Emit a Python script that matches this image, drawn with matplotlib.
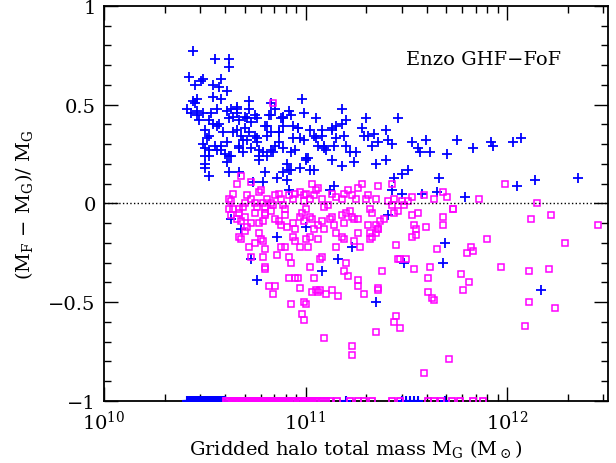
import numpy as np
import matplotlib
matplotlib.use('Agg')
import matplotlib.pyplot as plt
from matplotlib.ticker import FixedLocator, LogLocator, NullFormatter, MultipleLocator

plt.rcParams['font.family'] = 'DejaVu Serif'
plt.rcParams['mathtext.fontset'] = 'dejavuserif'

# log10 de la masa del halo (M_G) y (M_F - M_G)/M_G, leidos del grafico
# cruces azules
logm_azul = [10.44, 10.55, 10.62, 10.62, 10.42, 10.49, 10.45, 10.48, 10.54, 10.58,
             10.57, 10.61, 10.46, 10.45, 10.41, 10.43, 10.46, 10.49, 10.58, 10.56,
             10.63, 10.66, 10.72, 10.72, 10.66, 10.64, 10.62, 10.52, 10.54, 10.57,
             10.50, 10.52, 10.49, 10.50, 10.52, 10.50, 10.50, 10.50, 10.52, 10.58,
             10.60, 10.63, 10.61, 10.56, 10.59, 10.66, 10.68, 10.70, 10.67, 10.70,
             10.73, 10.75, 10.76, 10.69, 10.71, 10.76, 10.67, 10.73, 10.77, 10.79,
             10.81, 10.77, 10.83, 10.85, 10.87, 10.89, 10.80, 10.83, 10.81, 10.87,
             10.89, 10.85, 10.83, 10.88, 10.89, 10.92, 10.93, 10.94, 10.96, 10.98,
             10.99, 10.97, 10.95, 10.93, 10.91, 10.93, 10.97, 10.89, 10.86, 10.91,
             10.99, 11.00, 11.01, 11.02, 11.04, 11.05, 11.06, 11.08, 11.09, 11.10,
             11.08, 11.13, 11.14, 11.13, 11.15, 11.18, 11.18, 11.20, 11.19, 11.20,
             11.22, 11.18, 11.24, 11.25, 11.28, 11.30, 11.31, 11.34, 11.35, 11.36,
             11.40, 11.41, 11.43, 11.46, 11.40, 11.44, 11.48, 11.51, 11.53, 11.56,
             11.60, 11.62, 11.70, 11.75, 11.83, 11.92, 11.93, 12.03, 12.07, 11.66,
             12.05, 12.14, 12.35, 11.58, 11.65, 11.79, 11.48, 11.43,
             10.63, 10.68, 10.73, 10.76, 10.86, 11.16, 11.08, 11.23, 11.35, 11.49,
             11.69, 11.68, 12.17, 11.41, 11.00, 11.12, 10.92,
             10.47, 10.54, 10.55, 10.61, 10.64, 10.69, 10.75, 10.83, 10.62, 10.67,
             10.80, 10.79, 10.74, 11.04, 11.14, 11.29, 11.33, 11.57,
             10.44, 10.46, 10.53, 10.56, 10.61, 10.66, 10.71, 10.72, 10.76, 10.81,
             10.82, 10.87, 10.89, 10.94, 10.96, 11.00, 11.05, 11.09, 11.13, 11.15,
             10.58, 10.62, 10.67, 10.77, 10.84, 10.51, 10.52, 10.92, 11.02]
dif_azul = [0.77, 0.73, 0.73, 0.69, 0.64, 0.63, 0.60, 0.62, 0.60, 0.63,
            0.59, 0.57, 0.53, 0.51, 0.48, 0.46, 0.45, 0.46, 0.53, 0.48,
            0.48, 0.49, 0.52, 0.48, 0.46, 0.44, 0.43, 0.42, 0.40, 0.40,
            0.37, 0.34, 0.30, 0.28, 0.27, 0.24, 0.20, 0.18, 0.14, 0.27,
            0.25, 0.24, 0.21, 0.27, 0.36, 0.37, 0.34, 0.38, 0.42, 0.44,
            0.41, 0.45, 0.43, 0.32, 0.32, 0.31, 0.29, 0.28, 0.27, 0.26,
            0.24, 0.22, 0.27, 0.29, 0.31, 0.28, 0.39, 0.36, 0.34, 0.36,
            0.39, 0.48, 0.45, 0.43, 0.44, 0.47, 0.45, 0.39, 0.38, 0.53,
            0.46, 0.33, 0.27, 0.26, 0.20, 0.17, 0.18, 0.16, 0.13, 0.12,
            0.32, 0.22, 0.23, 0.37, 0.34, 0.43, 0.29, 0.37, 0.29, 0.27,
            0.34, 0.37, 0.29, 0.22, 0.39, 0.48, 0.40, 0.42, 0.34, 0.29,
            0.26, 0.19, 0.21, 0.26, 0.38, 0.43, 0.34, 0.35, 0.20, 0.31,
            0.37, 0.32, 0.30, 0.43, 0.22, 0.13, 0.15, 0.17, 0.31, 0.28,
            0.32, 0.26, 0.25, 0.32, 0.28, 0.31, 0.29, 0.31, 0.33, 0.13,
            0.09, 0.12, 0.13, 0.05, 0.06, 0.03, 0.05, 0.07,
            -0.08, -0.13, -0.28, -0.39, -0.17, -0.28, -0.34, -0.22, -0.50, -0.30,
            -0.20, -0.30, -0.44, -0.06, -0.12, 0.07, 0.07,
            0.42, 0.54, 0.29, 0.31, 0.36, 0.26, 0.34, 0.51, 0.16, 0.16,
            0.16, 0.11, 0.11, 0.17, 0.09, 0.34, 0.29, 0.26,
            0.52, 0.47, 0.46, 0.39, 0.47, 0.48, 0.43, 0.36, 0.33, 0.39,
            0.45, 0.36, 0.43, 0.33, 0.38, 0.23, 0.33, 0.28, 0.38, 0.33,
            0.29, 0.24, 0.28, 0.24, 0.26, 0.33, 0.24, 0.17, 0.17]

# cuadrados magenta
logm_mag = [10.84, 10.73, 10.66, 10.68, 10.62, 10.63, 10.64, 10.62, 10.64, 10.63,
            10.67, 10.67, 10.69, 10.70, 10.71, 10.73, 10.75, 10.77, 10.78, 10.76,
            10.79, 10.80, 10.80, 10.81, 10.83, 10.84, 10.85, 10.87, 10.88, 10.89,
            10.90, 10.92, 10.94, 10.95, 10.97, 10.99, 10.99, 11.00, 11.02, 11.03,
            11.04, 11.05, 11.06, 11.08, 11.09, 11.11, 11.13, 11.15, 11.18, 11.19,
            11.21, 11.23, 11.25, 11.26, 11.28, 11.30, 11.31, 11.32, 11.33, 11.35,
            11.36, 11.41, 11.43, 11.44, 11.48, 11.53, 11.59, 11.64, 11.68, 11.70,
            11.73, 11.86, 11.99, 12.15,
            10.66, 10.68, 10.70, 10.71, 10.73, 10.75, 10.77, 10.79, 10.80, 10.83,
            10.85, 10.87, 10.88, 10.90, 10.91, 10.94, 10.95, 10.97, 10.98, 10.99,
            11.00, 11.02, 11.03, 11.04, 11.06, 11.08, 11.09, 11.12, 11.13, 11.14,
            11.15, 11.18, 11.19, 11.20, 11.22, 11.23, 11.24, 11.26, 11.31, 11.32,
            11.33, 11.35, 11.36, 11.37, 11.39, 11.43, 11.44, 11.46, 11.49, 11.51,
            11.53, 11.54, 11.55, 11.56, 11.60, 11.68, 11.68, 11.73, 12.12, 12.22,
            12.45, 11.90, 12.29,
            10.67, 10.68, 10.70, 10.72, 10.73, 10.75, 10.77, 10.78, 10.79, 10.80,
            10.79, 10.80, 10.80, 10.82, 10.84, 10.85, 10.86, 10.88, 10.90, 10.92,
            10.93, 10.94, 10.95, 10.97, 11.00, 11.02, 11.01, 11.02, 11.04, 11.06,
            11.08, 11.07, 11.05, 11.03, 11.07, 11.10, 11.13, 11.15, 11.16, 11.18,
            11.19, 11.20, 11.19, 11.21, 11.24, 11.26, 11.27, 11.26, 11.26, 11.29,
            11.32, 11.35, 11.36, 11.38, 11.36, 11.36, 11.45, 11.46, 11.47, 11.50,
            11.55, 11.53, 11.54, 11.61, 11.62, 11.63, 11.64, 11.61, 11.65, 11.77,
            11.78, 11.80, 11.81, 11.82, 11.83, 11.97, 12.11, 12.11, 12.09, 12.21,
            12.24,
            10.93, 10.98, 10.99, 10.99, 11.00, 11.06, 11.09, 11.23, 11.23, 11.35,
            11.44, 11.45, 11.47, 11.59, 11.71, 10.92, 10.95, 10.96, 10.97]
dif_mag = [0.51, 0.11, 0.10, 0.14, 0.02, 0.01, 0.05, -0.03, -0.03, -0.06,
           -0.03, -0.05, -0.02, 0.00, 0.04, 0.02, 0.00, 0.06, 0.07, -0.02,
           0.00, -0.02, -0.05, 0.02, 0.00, -0.01, 0.04, 0.05, 0.02, -0.01,
           -0.03, 0.04, 0.02, 0.05, 0.06, 0.04, 0.01, 0.05, 0.02, 0.10,
           0.04, 0.07, 0.08, 0.02, -0.02, -0.01, 0.05, 0.03, 0.02, 0.05,
           0.07, 0.04, 0.02, 0.08, 0.10, 0.02, 0.04, -0.03, -0.05, 0.02,
           0.09, 0.01, 0.10, 0.02, 0.01, 0.03, 0.04, 0.02, 0.06, 0.03,
           -0.03, 0.02, 0.10, 0.00,
           -0.08, -0.09, -0.07, -0.12, -0.10, -0.05, -0.10, -0.09, -0.06, -0.04,
           -0.08, -0.09, -0.11, -0.06, -0.12, -0.10, -0.13, -0.07, -0.05, -0.09,
           -0.03, -0.07, -0.08, -0.13, -0.11, -0.09, -0.13, -0.08, -0.07, -0.11,
           -0.15, -0.06, -0.10, -0.05, -0.04, -0.07, -0.08, -0.08, -0.11, -0.15,
           -0.17, -0.11, -0.13, -0.09, -0.08, -0.01, -0.05, -0.04, -0.01, 0.01,
           -0.06, -0.11, -0.13, -0.05, -0.12, -0.07, -0.11, -0.03, -0.08, -0.06,
           -0.11, -0.18, -0.20,
           -0.17, -0.18, -0.14, -0.22, -0.27, -0.20, -0.15, -0.18, -0.19, -0.23,
           -0.27, -0.32, -0.33, -0.42, -0.46, -0.42, -0.26, -0.22, -0.22, -0.27,
           -0.30, -0.17, -0.19, -0.22, -0.18, -0.17, -0.22, -0.32, -0.38, -0.18,
           -0.27, -0.28, -0.44, -0.45, -0.44, -0.46, -0.44, -0.22, -0.47, -0.17,
           -0.18, -0.30, -0.34, -0.37, -0.19, -0.15, -0.22, -0.39, -0.42, -0.46,
           -0.18, -0.15, -0.13, -0.34, -0.43, -0.44, -0.21, -0.28, -0.28, -0.28,
           -0.16, -0.17, -0.33, -0.45, -0.32, -0.48, -0.49, -0.38, -0.23, -0.36,
           -0.44, -0.25, -0.40, -0.22, -0.24, -0.32, -0.34, -0.50, -0.62, -0.33,
           -0.53,
           -0.51, -0.56, -0.50, -0.59, -0.51, -0.45, -0.68, -0.72, -0.77, -0.65,
           -0.60, -0.57, -0.63, -0.86, -0.79, -0.38, -0.38, -0.38, -0.43]

# halos sin contraparte: quedan en -1 (borde inferior)
logm_azul_cero = [10.41, 10.415, 10.42, 10.425, 10.43, 10.44, 10.445, 10.45, 10.46, 10.465,
                  10.47, 10.48, 10.485, 10.49, 10.50, 10.505, 10.51, 10.52, 10.53, 10.535,
                  10.54, 10.55, 10.555, 10.56, 10.57, 10.58, 10.585, 10.59, 10.60,
                  11.20, 11.48, 11.50, 11.52, 11.54, 11.56, 11.69]
logm_mag_cero = [10.605, 10.61, 10.62, 10.63, 10.64, 10.645, 10.65, 10.66, 10.67, 10.68,
                 10.69, 10.70, 10.71, 10.72, 10.73, 10.74, 10.75, 10.76, 10.77, 10.78,
                 10.79, 10.80, 10.81, 10.82, 10.83, 10.84, 10.85, 10.86, 10.87, 10.88,
                 10.89, 10.90, 10.91, 10.92, 10.93, 10.94, 10.95, 10.96, 10.97, 10.98,
                 10.99, 11.00, 11.01, 11.02, 11.03, 11.04, 11.05, 11.06, 11.08, 11.10,
                 11.12, 11.155, 11.22, 11.26, 11.29, 11.33, 11.43, 11.47, 11.61, 11.64,
                 11.67, 11.725, 11.765, 11.83, 11.88]

masa_azul = 10 ** np.array(logm_azul)
masa_mag = 10 ** np.array(logm_mag)

fig = plt.figure(figsize=(6.16, 4.64), dpi=100)
ax = fig.add_axes([0.169, 0.134, 0.8175, 0.851])

ax.plot(masa_azul, dif_azul, '+', color='#0000ff', ms=6.5, mew=1.3, ls='none')
ax.plot(10 ** np.array(logm_azul_cero), [-1] * len(logm_azul_cero), '+', color='#0000ff',
        ms=7, mew=1.5, ls='none', zorder=3)
ax.plot(masa_mag, dif_mag, 's', mfc='none', mec='#ff00ff', ms=4.5, mew=1.1, ls='none')
ax.plot(10 ** np.array(logm_mag_cero), [-1] * len(logm_mag_cero), 's', mfc='none',
        mec='#ff00ff', ms=5, mew=1.3, ls='none', zorder=3)

ax.axhline(0, color='black', ls=':', lw=1.0)

ax.set_xscale('log')
ax.set_xlim(1e10, 3.16e12)
ax.set_ylim(-1, 1)

ax.xaxis.set_major_locator(FixedLocator([1e10, 1e11, 1e12]))
ax.set_xticklabels([r'$10^{10}$', r'$10^{11}$', r'$10^{12}$'])
ax.xaxis.set_minor_locator(LogLocator(base=10, subs=np.arange(2, 10)))
ax.xaxis.set_minor_formatter(NullFormatter())
ax.yaxis.set_major_locator(FixedLocator([-1, -0.5, 0, 0.5, 1]))
ax.set_yticklabels(['\u22121', '\u22120.5', '0', '0.5', '1'])
ax.yaxis.set_minor_locator(MultipleLocator(0.1))

ax.tick_params(which='both', direction='in', top=True, right=True, width=1.0,
               labelsize=14, pad=6)
ax.tick_params(which='major', length=10)
ax.tick_params(which='minor', length=5)
for s in ax.spines.values():
    s.set_linewidth(1.3)
    s.set_zorder(2.5)

ax.set_xlabel(r'Gridded halo total mass M$_{\rm G}$ (M$_\odot$)', fontsize=14, labelpad=3)
ax.set_ylabel(r'(M$_{\rm F}$ $-$ M$_{\rm G}$)/ M$_{\rm G}$', fontsize=14, labelpad=10)

ax.text(0.60, 0.866, 'Enzo GHF\u2212FoF', transform=ax.transAxes, fontsize=14,
        ha='left', va='center')

fig.savefig('out.png', dpi=100)
